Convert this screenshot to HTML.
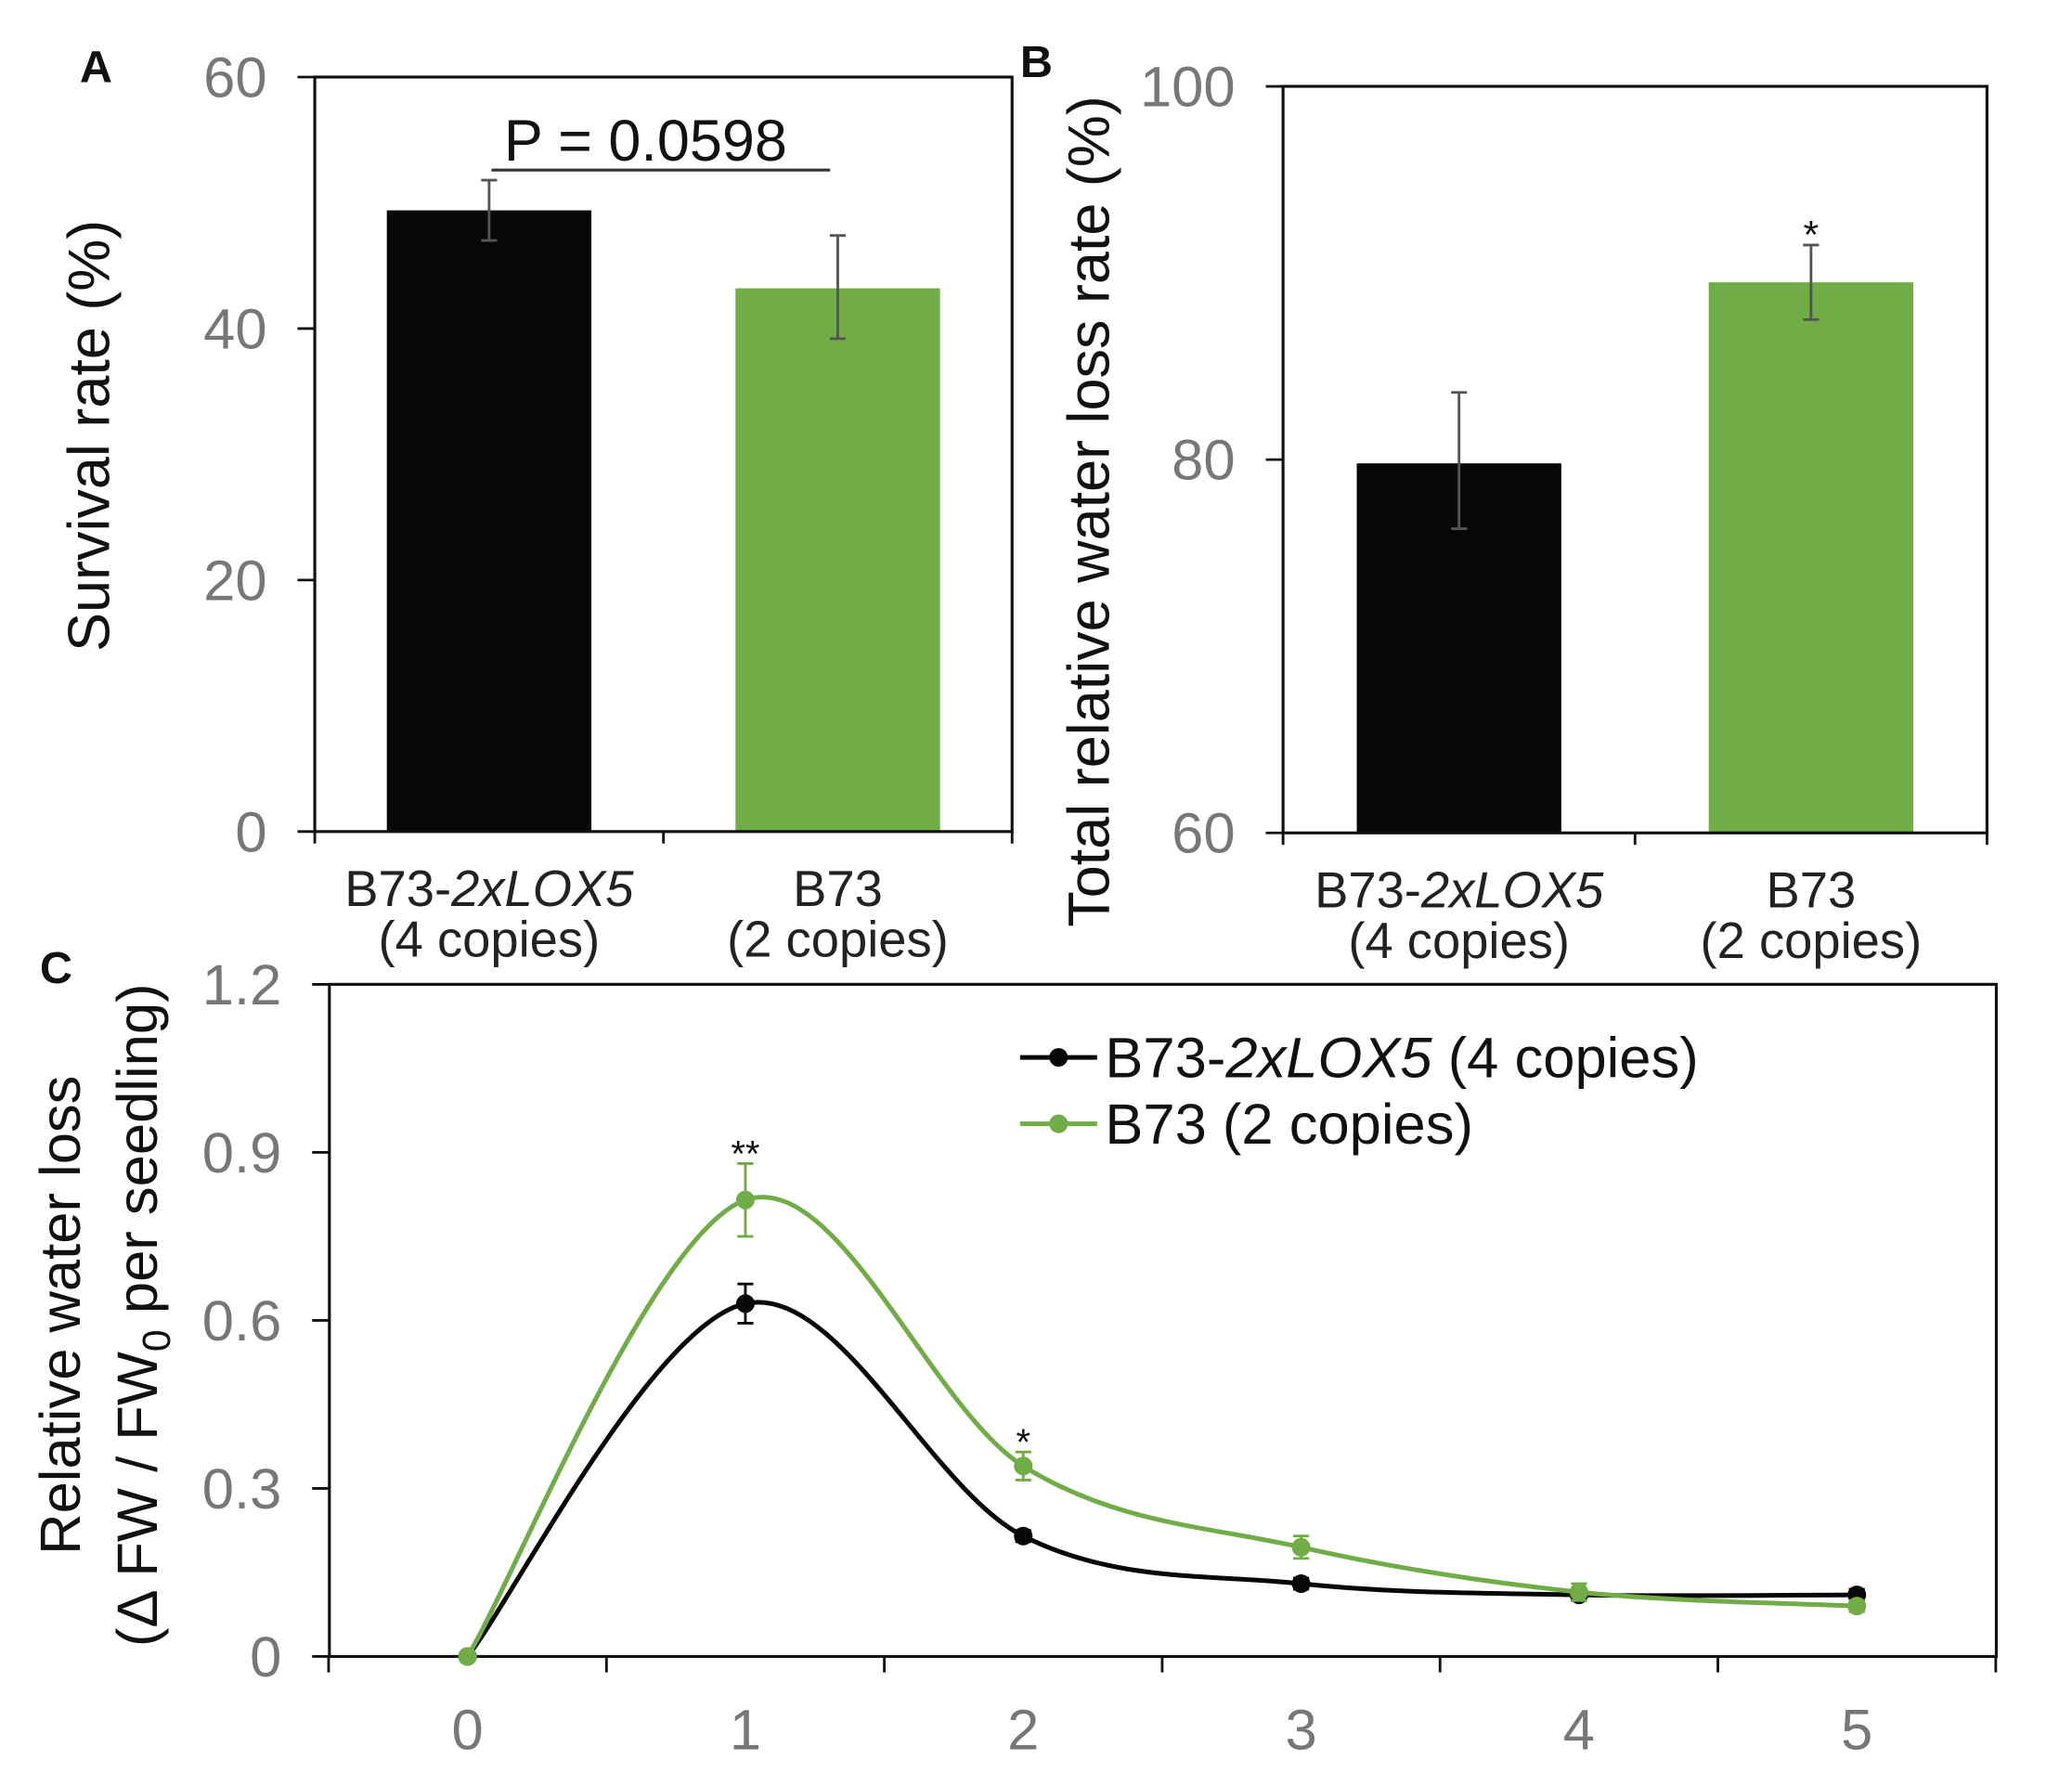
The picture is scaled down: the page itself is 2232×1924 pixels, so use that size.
<!DOCTYPE html>
<html><head><meta charset="utf-8"><style>
html,body{margin:0;padding:0;background:#fff;}
svg{display:block;font-family:"Liberation Sans",Arial,sans-serif;}
</style></head><body>
<svg id="fig" width="2232" height="1924" viewBox="0 0 1560 1344.5" preserveAspectRatio="none"></svg>
<script>
const catsAB = ["B73-2xLOX5", "B73"];
const survivalVals = [49.4, 43.2];
const survivalErrLo = [47.0, 39.2];
const survivalErrHi = [51.8, 47.4];
const waterLossVals = [79.8, 89.5];
const waterLossErrLo = [76.3, 87.5];
const waterLossErrHi = [83.6, 91.5];
const ticksA = [0, 20, 40, 60];
const ticksB = [60, 80, 100];
const timeX = [0, 1, 2, 3, 4, 5];
const lox5Vals = [0, 0.63, 0.215, 0.13, 0.11, 0.11];
const lox5Err = [0, 0.035, 0.01, 0.01, 0.01, 0.01];
const b73Vals = [0, 0.815, 0.34, 0.195, 0.115, 0.09];
const b73Err = [0, 0.065, 0.025, 0.02, 0.015, 0.01];
const ticksC = [0, 0.3, 0.6, 0.9, 1.2];
const ticksCLabels = ["0", "0.3", "0.6", "0.9", "1.2"];

const NS = "http://www.w3.org/2000/svg";
const svg = document.getElementById("fig");
function mk(tag, attrs, parent, text) {
  const e = document.createElementNS(NS, tag);
  for (const k in attrs) e.setAttribute(k, attrs[k]);
  if (text !== undefined) e.textContent = text;
  (parent || svg).appendChild(e);
  return e;
}
const BLACK = "#060807", GREEN = "#70ad47", GRAY = "#777", ERR = "#555";

function barPanel(o) {
  const g = mk("g", {});
  
  
  const y = v => o.bottom - (v - o.min) / (o.max - o.min) * (o.bottom - o.top);
  const step = (o.right - o.left) / 2;
  const cx = i => o.left + step * (i + 0.5);
  const bw = 154;
  const colors = [BLACK, GREEN];
  o.vals.forEach((v, i) => {
    const r = mk("rect", {x: cx(i) - bw / 2, y: y(v), width: bw, height: o.bottom - y(v), fill: colors[i]}, g);
    
    
    const e = mk("path", {d: `M${cx(i)} ${y(o.lo[i])}V${y(o.hi[i])}M${cx(i)-6} ${y(o.lo[i])}H${cx(i)+6}M${cx(i)-6} ${y(o.hi[i])}H${cx(i)+6}`, stroke: ERR, "stroke-width": 2, fill: "none"}, g);
    
    
  });
  const fr = mk("rect", {x: o.left, y: o.top, width: o.right - o.left, height: o.bottom - o.top, fill: "none", stroke: "#111", "stroke-width": 2.2}, g);
  
  
  o.ticks.forEach(t => {
    mk("line", {x1: o.left - 13, x2: o.left, y1: y(t), y2: y(t), stroke: "#111", "stroke-width": 2}, g);
    const tl = mk("text", {x: o.left - 36, y: y(t) + 15, "text-anchor": "end", "font-size": 43, fill: GRAY}, g, t);
    
    
  });
  [0, 1, 2].forEach(i => mk("line", {x1: o.left + step * i, x2: o.left + step * i, y1: o.bottom, y2: o.bottom + 9, stroke: "#111", "stroke-width": 2}, g));
  const l1 = mk("text", {x: cx(0), y: o.bottom + 56, "text-anchor": "middle", "font-size": 38, fill: "#222"}, g);
  
  
  mk("tspan", {}, l1, "B73-");
  mk("tspan", {"font-style": "italic"}, l1, "2xLOX5");
  const l1b = mk("text", {x: cx(0), y: o.bottom + 94, "text-anchor": "middle", "font-size": 38, fill: "#222"}, g, "(4 copies)");
  
  
  const l2 = mk("text", {x: cx(1), y: o.bottom + 56, "text-anchor": "middle", "font-size": 38, fill: "#222"}, g, "B73");
  
  
  const l2b = mk("text", {x: cx(1), y: o.bottom + 94, "text-anchor": "middle", "font-size": 38, fill: "#222"}, g, "(2 copies)");
  
  
  return {g, y, cx};
}

const A = barPanel({name: "panel-a", left: 237, right: 762, top: 58, bottom: 626, min: 0, max: 60, ticks: ticksA, vals: survivalVals, lo: survivalErrLo, hi: survivalErrHi});
const pl = mk("line", {x1: 370, x2: 625, y1: 128, y2: 128, stroke: "#333", "stroke-width": 2.2}, A.g);


const pt = mk("text", {x: 486, y: 121, "text-anchor": "middle", "font-size": 44, fill: "#111"}, A.g, "P = 0.0598");


const yta = mk("text", {transform: "translate(82,328) rotate(-90)", "text-anchor": "middle", "font-size": 44, fill: "#111"}, A.g, "Survival  rate (%)");


const la = mk("text", {x: 60, y: 62, "font-size": 34, "font-weight": "bold", fill: "#111"}, A.g, "A");



const B = barPanel({name: "panel-b", left: 966, right: 1496, top: 65, bottom: 627, min: 60, max: 100, ticks: ticksB, vals: waterLossVals, lo: waterLossErrLo, hi: waterLossErrHi});
const sb = mk("text", {x: B.cx(1), y: 187, "text-anchor": "middle", "font-size": 30, fill: "#111"}, B.g, "*");


const ytb = mk("text", {transform: "translate(835,385) rotate(-90)", "text-anchor": "middle", "font-size": 44, fill: "#111"}, B.g, "Total relative water loss rate (%)");


const lb = mk("text", {x: 768, y: 58, "font-size": 34, "font-weight": "bold", fill: "#111"}, B.g, "B");



const C = mk("g", {});


const cL = 248, cR = 1503, cT = 741, cB = 1247;
const xs = v => 352 + v * 209.2;
const ys = v => cB - v / 1.2 * (cB - cT);
const fc = mk("rect", {x: cL, y: cT, width: cR - cL, height: cB - cT, fill: "none", stroke: "#111", "stroke-width": 2.2}, C);


ticksC.forEach((t, i) => {
  mk("line", {x1: cL - 13, x2: cL, y1: ys(t), y2: ys(t), stroke: "#111", "stroke-width": 2}, C);
  const tl = mk("text", {x: cL - 36, y: ys(t) + 15, "text-anchor": "end", "font-size": 43, fill: GRAY}, C, ticksCLabels[i]);
  
  
});
for (let i = 0; i <= 6; i++) {
  const x = xs(-0.5 + i);
  mk("line", {x1: x, x2: x, y1: cB, y2: cB + 12, stroke: "#111", "stroke-width": 2}, C);
}
timeX.forEach(t => {
  const tl = mk("text", {x: xs(t), y: cB + 70, "text-anchor": "middle", "font-size": 43, fill: GRAY}, C, t);
  
  
});
function smooth(pts) {
  let d = `M${pts[0][0]} ${pts[0][1]}`;
  for (let i = 0; i < pts.length - 1; i++) {
    const p0 = pts[i - 1] || pts[i], p1 = pts[i], p2 = pts[i + 1], p3 = pts[i + 2] || p2;
    const c1 = [p1[0] + (p2[0] - p0[0]) / 6, p1[1] + (p2[1] - p0[1]) / 6];
    const c2 = [p2[0] - (p3[0] - p1[0]) / 6, p2[1] - (p3[1] - p1[1]) / 6];
    d += `C${c1[0]} ${c1[1]} ${c2[0]} ${c2[1]} ${p2[0]} ${p2[1]}`;
  }
  return d;
}
function series(vals, errs, color, name) {
  const g = mk("g", {}, C);
  
  
  const pts = timeX.map((t, i) => [xs(t), ys(vals[i])]);
  const ln = mk("path", {d: smooth(pts), stroke: color, "stroke-width": 3.5, fill: "none"}, g);
  
  
  timeX.forEach((t, i) => {
    const x = xs(t);
    if (errs[i] > 0) {
      const eb = mk("path", {d: `M${x} ${ys(vals[i]-errs[i])}V${ys(vals[i]+errs[i])}M${x-6} ${ys(vals[i]-errs[i])}H${x+6}M${x-6} ${ys(vals[i]+errs[i])}H${x+6}`, stroke: color, "stroke-width": 2, fill: "none"}, g);
      
      
    }
    const c = mk("circle", {cx: x, cy: ys(vals[i]), r: 7, fill: color}, g);
    
    
  });
}
series(lox5Vals, lox5Err, BLACK, "series-lox5");
series(b73Vals, b73Err, GREEN, "series-b73");
const s1 = mk("text", {x: xs(1), y: ys(b73Vals[1] + b73Err[1]) + 2, "text-anchor": "middle", "font-size": 28, fill: "#111"}, C, "**");


const s2 = mk("text", {x: xs(2), y: ys(b73Vals[2] + b73Err[2]) + 2, "text-anchor": "middle", "font-size": 28, fill: "#111"}, C, "*");


const lg = mk("g", {}, C);


[[BLACK, 796, true], [GREEN, 846, false]].forEach(([col, yy, lox]) => {
  mk("line", {x1: 768, x2: 826, y1: yy, y2: yy, stroke: col, "stroke-width": 3.5}, lg);
  mk("circle", {cx: 797, cy: yy, r: 7, fill: col}, lg);
  const t = mk("text", {x: 832, y: yy + 15, "font-size": 43, fill: "#111"}, lg);
  
  
  if (lox) { mk("tspan", {}, t, "B73-"); mk("tspan", {"font-style": "italic"}, t, "2xLOX5"); mk("tspan", {}, t, " (4 copies)"); }
  else t.textContent = "B73 (2 copies)";
});
const ytc1 = mk("text", {transform: "translate(60,990) rotate(-90)", "text-anchor": "middle", "font-size": 43, fill: "#111"}, C, "Relative  water  loss");


const ytc2 = mk("text", {transform: "translate(118,990) rotate(-90)", "text-anchor": "middle", "font-size": 43, fill: "#111"}, C);


mk("tspan", {}, ytc2, "(Δ FW / FW");
mk("tspan", {"font-size": 30, dy: 10}, ytc2, "0");
mk("tspan", {dy: -10}, ytc2, " per seedling)");
const lc = mk("text", {x: 30, y: 740, "font-size": 34, "font-weight": "bold", fill: "#111"}, C, "C");


</script>
</body></html>
